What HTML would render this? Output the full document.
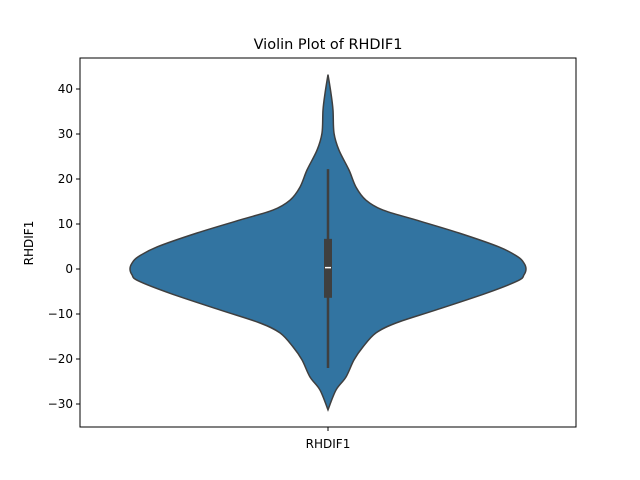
<!DOCTYPE html>
<html><head><meta charset="utf-8"><style>
body{margin:0;background:#fff;}
svg{display:block;font-family:"DejaVu Sans","Liberation Sans",sans-serif;}
</style></head><body>
<svg id="chart" width="640" height="480"></svg>
<script>
const categories = ["RHDIF1"];
const densityValues = [43.2,39,35.3,30.2,26.4,22,18.2,15.3,13.1,10.9,8,4.9,2.7,1.3,0,-1.3,-2.6,-5.4,-9.1,-12,-14.2,-17.3,-20.2,-24,-26.9,-31.3];
const densityWidths = [0,3,5,6,11,21,28,38,55,88,131,171,190,196,198,196,190,158,108,68,48,35,26,18,8,0];
const boxStats = [-22, -6.4, 0.3, 6.7, 22.2]; // whiskerLow, q1, median, q3, whiskerHigh
const yTicks = [-30,-20,-10,0,10,20,30,40];

const NS="http://www.w3.org/2000/svg";
const svg=document.getElementById('chart');
const L=80,R=576,T=58,B=427,cx=328;
const y=v=>269-4.5*v;
function mk(tag,attrs,name,text){const e=document.createElementNS(NS,tag);for(const k in attrs)e.setAttribute(k,attrs[k]);


if(text!==undefined)e.textContent=text;svg.appendChild(e);return e;}

function smooth(pts){let d=`M${pts[0][0]},${pts[0][1]}`;
for(let i=0;i<pts.length-1;i++){const p0=pts[i-1]||pts[i],p1=pts[i],p2=pts[i+1],p3=pts[i+2]||p2;
const c1=[p1[0]+(p2[0]-p0[0])/6,p1[1]+(p2[1]-p0[1])/6],c2=[p2[0]-(p3[0]-p1[0])/6,p2[1]-(p3[1]-p1[1])/6];
d+=` C${c1[0]},${c1[1]} ${c2[0]},${c2[1]} ${p2[0]},${p2[1]}`;}return d;}
const right=densityValues.map((v,i)=>[cx+densityWidths[i],y(v)]);
const left=densityValues.map((v,i)=>[cx-densityWidths[i],y(v)]).reverse();
const d=smooth(right)+' '+smooth(left).replace('M','L')+' Z';
mk('path',{d,fill:'#3274a1',stroke:'#3f3f3f','stroke-width':1.5},'violin-body');
mk('line',{x1:cx,x2:cx,y1:y(boxStats[0]),y2:y(boxStats[4]),stroke:'#3f3f3f','stroke-width':2.5},'whisker');
mk('rect',{x:cx-4,y:y(boxStats[3]),width:8,height:y(boxStats[1])-y(boxStats[3]),fill:'#3f3f3f'},'iqr-box');
mk('line',{x1:cx-3,x2:cx+3,y1:y(boxStats[2]),y2:y(boxStats[2]),stroke:'#fff','stroke-width':1.5},'median-marker');

mk('rect',{x:L,y:T,width:R-L,height:B-T,fill:'none',stroke:'#000','stroke-width':1},'plot-frame');
yTicks.forEach(t=>{const yy=y(t);
mk('line',{x1:L-4,x2:L,y1:yy,y2:yy,stroke:'#000'},'y-tick');
mk('text',{x:L-7,y:yy+4,'text-anchor':'end','font-size':12},'y-tick-label',String(t).replace('-','\u2212'));});
categories.forEach(c=>{mk('line',{x1:cx,x2:cx,y1:B,y2:B+4,stroke:'#000'},'x-tick');
mk('text',{x:cx,y:B+21,'text-anchor':'middle','font-size':12},'x-tick-label',c);});
mk('text',{x:33,y:243,'text-anchor':'middle','font-size':12,transform:'rotate(-90 33 243)'},'y-axis-title','RHDIF1');
mk('text',{x:328,y:49,'text-anchor':'middle','font-size':14.5},'chart-title','Violin Plot of RHDIF1');
</script>
</body></html>
